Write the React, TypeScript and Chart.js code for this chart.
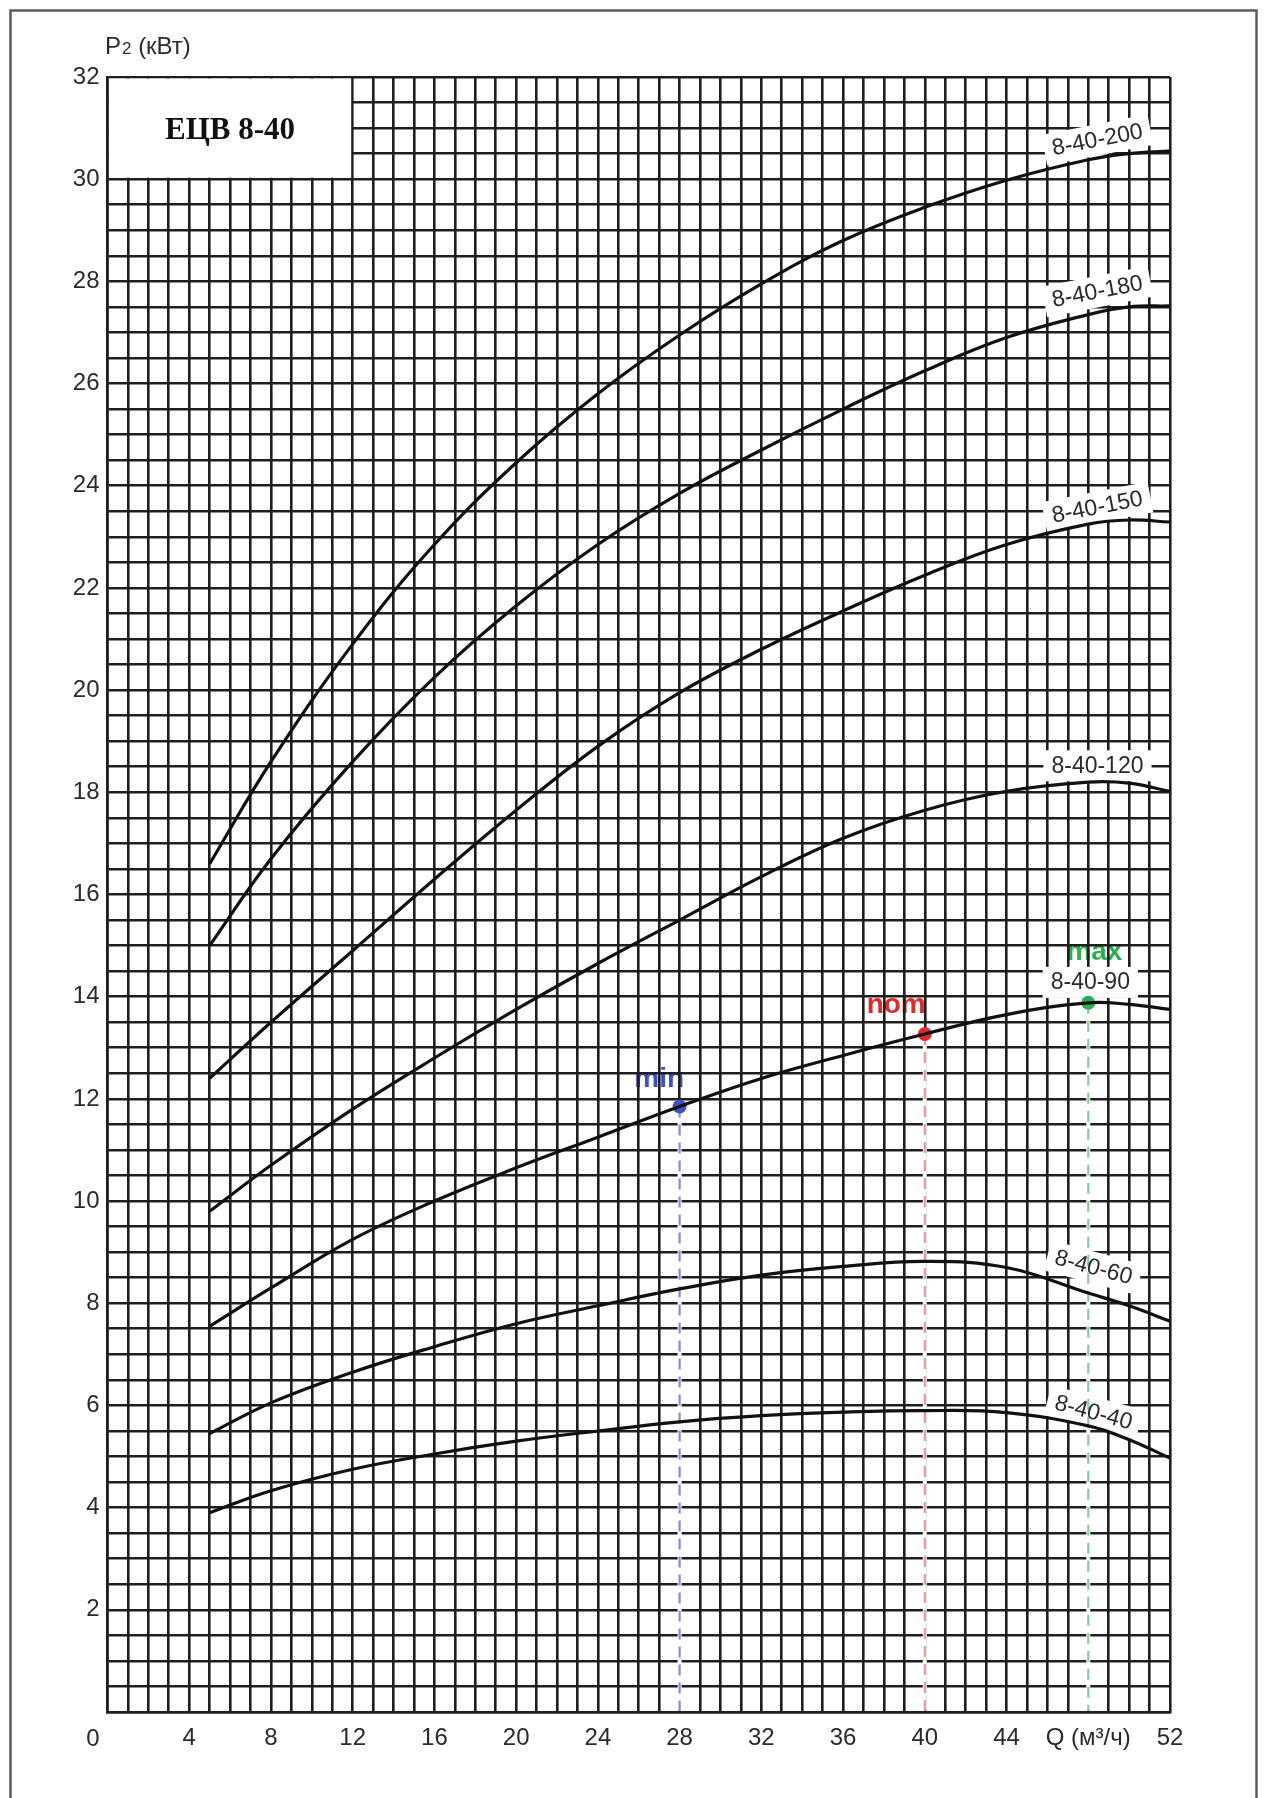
import React, { useEffect, useRef } from 'react';
import { Chart, registerables } from 'chart.js';

Chart.register(...registerables);

// Flow rate Q, m³/h, at which each power curve is sampled
const flowQ = [5, 8, 12, 16, 20, 24, 28, 32, 36, 40, 44, 48, 50, 52];

// Shaft power P2, kW, for each pump of the ЕЦВ 8-40 range
const p200 = [16.6, 18.6, 20.9, 22.85, 24.45, 25.8, 26.95, 27.95, 28.8, 29.45, 29.98, 30.38, 30.5, 30.55];
const p180 = [15.0, 16.7, 18.6, 20.25, 21.65, 22.85, 23.85, 24.7, 25.5, 26.25, 26.9, 27.35, 27.5, 27.52];
const p150 = [12.4, 13.5, 14.9, 16.3, 17.65, 18.9, 19.95, 20.8, 21.55, 22.25, 22.85, 23.25, 23.33, 23.29];
const p120 = [9.8, 10.7, 11.8, 12.8, 13.75, 14.65, 15.5, 16.35, 17.1, 17.65, 18.02, 18.2, 18.18, 18.02];
const p90 = [7.55, 8.3, 9.25, 10.0, 10.65, 11.25, 11.85, 12.4, 12.85, 13.27, 13.65, 13.88, 13.85, 13.75];
const p60 = [5.45, 6.05, 6.65, 7.15, 7.6, 7.95, 8.28, 8.55, 8.72, 8.82, 8.7, 8.2, 7.95, 7.65];
const p40 = [3.9, 4.33, 4.75, 5.05, 5.3, 5.5, 5.68, 5.8, 5.87, 5.9, 5.86, 5.6, 5.33, 4.97];

const curveNames = ['8-40-200', '8-40-180', '8-40-150', '8-40-120', '8-40-90', '8-40-60', '8-40-40'];
const curveValues = [p200, p180, p150, p120, p90, p60, p40];

// Where each curve name sits (Q, P) and its tilt in degrees
const curveLabelQ = [48.45, 48.45, 48.45, 48.45, 48.1, 48.25, 48.25];
const curveLabelP = [30.76, 27.79, 23.57, 18.51, 14.27, 8.69, 5.85];
const curveLabelAngle = [-11, -11, -11, 0, 0, 15, 15];

// Working range of the 8-40-90 pump
const dutyNames = ['min', 'nom', 'max'];
const dutyQ = [28, 40, 48];
const dutyP = [11.85, 13.27, 13.88];
const dutyLabelQ = [27.0, 38.6, 48.3];
const dutyLabelP = [12.39, 13.83, 14.86];
const dutyColors = ['#3f4fc4', '#e02a2a', '#2eae4e'];
const dutyLineColors = ['#8a8ad2', '#e69a9a', '#8cc89c'];

// Axis ticks that carry a caption
const xTickValues = [4, 8, 12, 16, 20, 24, 28, 32, 36, 40, 44, 48, 52];
const xTickTexts = ['4', '8', '12', '16', '20', '24', '28', '32', '36', '40', '44', 'Q (м³/ч)', '52'];
const yTickValues = [2, 4, 6, 8, 10, 12, 14, 16, 18, 20, 22, 24, 26, 28, 30, 32];

const SANS = '"Liberation Sans", Arial, sans-serif';
const SERIF = '"Liberation Serif", "Times New Roman", serif';
const GRID = '#1e1e1e';
const TEXT = '#2a2a2a';

const W = 1265;
const H = 1798;

const decorPlugin = {
  id: 'decor',
  beforeDraw(chart: any) {
    const ctx = chart.ctx as CanvasRenderingContext2D;
    const x = chart.scales.x;
    const y = chart.scales.y;
    ctx.save();
    // outer frame
    ctx.strokeStyle = '#5c5c5c';
    ctx.lineWidth = 2.5;
    ctx.strokeRect(10.5, 10.5, 1246, 1830);

    // vertical axis caption P₂ (кВт)
    ctx.fillStyle = TEXT;
    ctx.textBaseline = 'alphabetic';
    ctx.textAlign = 'left';
    let tx = 105;
    const ty = 54;
    ctx.font = `24px ${SANS}`;
    ctx.fillText('P', tx, ty);
    tx += ctx.measureText('P').width + 1;
    ctx.font = `17px ${SANS}`;
    ctx.fillText('2', tx, ty);
    tx += ctx.measureText('2').width;
    ctx.font = `24px ${SANS}`;
    ctx.fillText(' (кВт)', tx, ty);

    // origin caption
    ctx.textAlign = 'right';
    ctx.textBaseline = 'middle';
    ctx.fillText('0', x.left - 8, y.bottom + 27);

    // min / nom / max captions (grid is painted over them)
    ctx.textAlign = 'center';
    ctx.font = `bold 28px ${SANS}`;
    dutyNames.forEach((name, i) => {
      ctx.fillStyle = dutyColors[i];
      ctx.fillText(name, x.getPixelForValue(dutyLabelQ[i]), y.getPixelForValue(dutyLabelP[i]));
    });
    ctx.restore();
  },
  beforeDatasetsDraw(chart: any) {
    const ctx = chart.ctx as CanvasRenderingContext2D;
    const x = chart.scales.x;
    const y = chart.scales.y;
    ctx.save();

    // title block in the upper-left corner
    const bx0 = x.getPixelForValue(0);
    const bx1 = x.getPixelForValue(12);
    const by0 = y.getPixelForValue(32);
    const by1 = y.getPixelForValue(30);
    ctx.fillStyle = '#ffffff';
    ctx.fillRect(bx0 + 1.5, by0 + 1.5, bx1 - bx0 - 3, by1 - by0 - 3);
    ctx.fillStyle = '#111';
    ctx.font = `bold 31px ${SERIF}`;
    ctx.textAlign = 'center';
    ctx.textBaseline = 'middle';
    ctx.fillText('ЕЦВ 8-40', (bx0 + bx1) / 2, (by0 + by1) / 2 + 3);

    // white plates behind curve names
    ctx.font = `23px ${SANS}`;
    curveNames.forEach((name, i) => {
      const w = ctx.measureText(name).width;
      ctx.save();
      ctx.translate(x.getPixelForValue(curveLabelQ[i]), y.getPixelForValue(curveLabelP[i]));
      ctx.rotate((curveLabelAngle[i] * Math.PI) / 180);
      ctx.fillStyle = '#ffffff';
      ctx.fillRect(-w / 2 - 8, -16, w + 16, 31);
      ctx.restore();
    });

    // dashed drop lines from the working points
    dutyQ.forEach((q, i) => {
      const px = x.getPixelForValue(q);
      const py = y.getPixelForValue(dutyP[i]);
      ctx.strokeStyle = '#ffffff';
      ctx.lineWidth = 4;
      ctx.setLineDash([]);
      ctx.beginPath();
      ctx.moveTo(px, py);
      ctx.lineTo(px, y.bottom - 1.5);
      ctx.stroke();
      ctx.strokeStyle = dutyLineColors[i];
      ctx.lineWidth = 2.2;
      ctx.setLineDash([11, 7]);
      ctx.beginPath();
      ctx.moveTo(px, py);
      ctx.lineTo(px, y.bottom - 1.5);
      ctx.stroke();
    });
    ctx.restore();
  },
  afterDatasetsDraw(chart: any) {
    const ctx = chart.ctx as CanvasRenderingContext2D;
    const x = chart.scales.x;
    const y = chart.scales.y;
    ctx.save();
    ctx.font = `23px ${SANS}`;
    ctx.fillStyle = TEXT;
    ctx.textAlign = 'center';
    ctx.textBaseline = 'middle';
    curveNames.forEach((name, i) => {
      ctx.save();
      ctx.translate(x.getPixelForValue(curveLabelQ[i]), y.getPixelForValue(curveLabelP[i]));
      ctx.rotate((curveLabelAngle[i] * Math.PI) / 180);
      ctx.fillText(name, 0, 0);
      ctx.restore();
    });
    ctx.restore();
  },
};

export default function App() {
  const canvasRef = useRef<HTMLCanvasElement | null>(null);

  useEffect(() => {
    const canvas = canvasRef.current;
    if (!canvas) return;

    const curveSets = curveValues.map((vals, i) => ({
      type: 'line' as const,
      label: curveNames[i],
      data: flowQ.map((q, k) => ({ x: q, y: vals[k] })),
      borderColor: '#111111',
      borderWidth: 3.2,
      pointRadius: 0,
      fill: false,
      tension: 0.4,
    }));

    const dutySet = {
      type: 'scatter' as const,
      label: 'duty',
      data: dutyQ.map((q, i) => ({ x: q, y: dutyP[i] })),
      pointBackgroundColor: dutyColors,
      pointBorderColor: dutyColors,
      pointBorderWidth: 0,
      pointRadius: 7,
      showLine: false,
    };

    const chart = new Chart(canvas, {
      type: 'line',
      data: { datasets: [...curveSets, dutySet] as any },
      options: {
        animation: false,
        responsive: false,
        devicePixelRatio: 1,
        events: [],
        layout: { padding: { left: 0, top: 77, right: W - 1170, bottom: 0 } },
        plugins: { legend: { display: false }, tooltip: { enabled: false } },
        scales: {
          x: {
            type: 'linear',
            min: 0,
            max: 52,
            afterFit: (scale: any) => {
              scale.height = H - 1712;
            },
            ticks: {
              stepSize: 1,
              autoSkip: false,
              maxRotation: 0,
              padding: 12,
              color: TEXT,
              font: { family: SANS, size: 24 },
              callback: (v: any) => {
                const k = xTickValues.indexOf(Number(v));
                return k >= 0 ? xTickTexts[k] : '';
              },
            },
            grid: { color: GRID, lineWidth: 2.6, drawTicks: false },
            border: { color: GRID, width: 2.6 },
          },
          y: {
            type: 'linear',
            min: 0,
            max: 32,
            afterFit: (scale: any) => {
              scale.width = 107.5;
            },
            ticks: {
              stepSize: 0.5,
              autoSkip: false,
              padding: 8,
              color: TEXT,
              font: { family: SANS, size: 24 },
              callback: (v: any) => (yTickValues.includes(Number(v)) ? String(v) : ''),
            },
            grid: { color: GRID, lineWidth: 2.6, drawTicks: false },
            border: { color: GRID, width: 2.6 },
          },
        },
      },
      plugins: [decorPlugin],
    });

    return () => chart.destroy();
  }, []);

  return (
    <div style={{ position: 'absolute', left: 0, top: 0, width: W, height: H, background: '#ffffff' }}>
      <canvas ref={canvasRef} width={W} height={H} style={{ display: 'block' }} />
    </div>
  );
}
